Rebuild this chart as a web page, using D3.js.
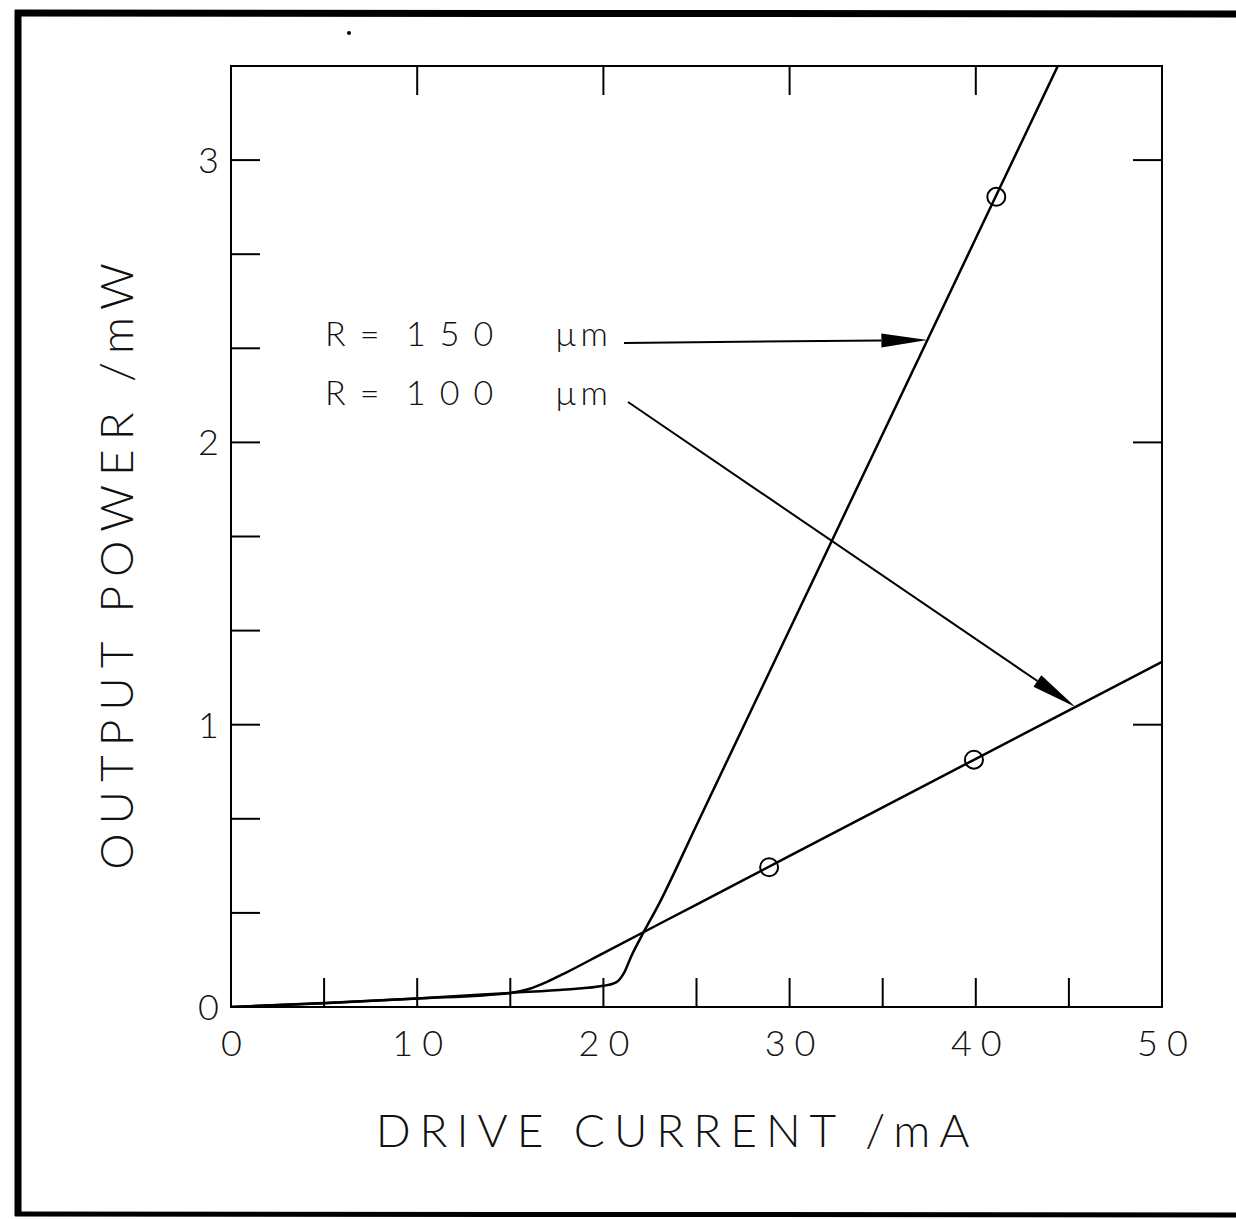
<!DOCTYPE html>
<html>
<head>
<meta charset="utf-8">
<script src="https://cdn.jsdelivr.net/npm/d3@7"></script>
<style>
  body { margin: 0; background: #fff; }
  svg text { font-family: Lato, "Open Sans", "DejaVu Sans", sans-serif; font-weight: 300; fill: #111; }
</style>
</head>
<body>
<svg width="1236" height="1219"></svg>
<script>
// curve data (drive current mA, output power mW)
const r150_x = [0, 5, 10, 15, 18, 20, 20.7, 21.1, 21.5, 22.0, 23, 25, 30, 35, 40, 44.4];
const r150_y = [0, 0.013, 0.03, 0.05, 0.062, 0.075, 0.088, 0.12, 0.18, 0.245, 0.367, 0.644, 1.337, 2.03, 2.723, 3.333];
const r100_x = [0, 5, 10, 15, 16, 17, 18, 20, 25, 30, 40, 50];
const r100_y = [0, 0.014, 0.03, 0.05, 0.064, 0.09, 0.122, 0.191, 0.363, 0.535, 0.879, 1.223];
// measured points (circles)
const r150_pts = [[41.1, 2.87]];
const r100_pts = [[28.9, 0.495], [39.9, 0.876]];

const xTicksMinor = [5, 10, 15, 20, 25, 30, 35, 40, 45];
const xTicksTop = [10, 20, 30, 40];
const xLabels = [0, 10, 20, 30, 40, 50];
const yTicksLeft = [1, 2, 3, 4, 5, 6, 7, 8, 9].map(function(i) { return i / 3; });
const yTicksRight = [1, 2, 3];
const yLabels = [0, 1, 2, 3];

var svg = d3.select("svg");

// plot box edges (don't use "top", it's window.top)
var pL = 231, pR = 1162, pT = 66, pB = 1007;

var x = d3.scaleLinear().domain([0, 50]).range([pL, pR]);
var y = d3.scaleLinear().domain([0, 10 / 3]).range([pB, pT]);

// outer scan frame
var frame = svg.append("g").attr("stroke", "#000").attr("fill", "none");
frame.append("line").attr("x1", 15).attr("y1", 13).attr("x2", 1236).attr("y2", 14).attr("stroke-width", 7);
frame.append("line").attr("x1", 18).attr("y1", 10).attr("x2", 18).attr("y2", 1216).attr("stroke-width", 7);
frame.append("line").attr("x1", 15).attr("y1", 1214).attr("x2", 1236).attr("y2", 1215).attr("stroke-width", 5);
svg.append("circle").attr("cx", 349).attr("cy", 33).attr("r", 2).attr("fill", "#000");

// plot box
svg.append("rect")
    .attr("x", pL).attr("y", pT)
    .attr("width", pR - pL).attr("height", pB - pT)
    .attr("fill", "none").attr("stroke", "#000").attr("stroke-width", 2);

var tickLen = 29;
var ticks = svg.append("g").attr("stroke", "#000").attr("stroke-width", 2);
ticks.selectAll(".tb").data(xTicksMinor).enter().append("line")
    .attr("x1", function(d) { return x(d); }).attr("x2", function(d) { return x(d); })
    .attr("y1", pB).attr("y2", pB - tickLen);
ticks.selectAll(".tt").data(xTicksTop).enter().append("line")
    .attr("x1", function(d) { return x(d); }).attr("x2", function(d) { return x(d); })
    .attr("y1", pT).attr("y2", pT + tickLen);
ticks.selectAll(".tl").data(yTicksLeft).enter().append("line")
    .attr("x1", pL).attr("x2", pL + tickLen)
    .attr("y1", function(d) { return y(d); }).attr("y2", function(d) { return y(d); });
ticks.selectAll(".tr").data(yTicksRight).enter().append("line")
    .attr("x1", pR).attr("x2", pR - tickLen)
    .attr("y1", function(d) { return y(d); }).attr("y2", function(d) { return y(d); });

// tick labels
svg.selectAll(".xl").data(xLabels).enter().append("text")
    .attr("x", function(d) { return x(d) + 5; })
    .attr("y", pB + 49)
    .attr("text-anchor", "middle")
    .attr("font-size", 36)
    .attr("letter-spacing", 9)
    .text(function(d) { return d; });
svg.selectAll(".yl").data(yLabels).enter().append("text")
    .attr("x", pL - 12)
    .attr("y", function(d) { return y(d) + 13; })
    .attr("text-anchor", "end")
    .attr("font-size", 36)
    .text(function(d) { return d; });

// axis titles
svg.append("text")
    .attr("x", 677).attr("y", 1147)
    .attr("text-anchor", "middle")
    .attr("font-size", 46)
    .attr("letter-spacing", 9)
    .attr("xml:space", "preserve")
    .text("DRIVE CURRENT /mA");
svg.append("text")
    .attr("transform", "translate(133,562) rotate(-90)")
    .attr("text-anchor", "middle")
    .attr("font-size", 46)
    .attr("letter-spacing", 9)
    .attr("xml:space", "preserve")
    .text("OUTPUT POWER /mW");

// curves
svg.append("clipPath").attr("id", "clip").append("rect")
    .attr("x", pL).attr("y", pT).attr("width", pR - pL).attr("height", pB - pT);

var line = d3.line()
    .x(function(d) { return x(d[0]); })
    .y(function(d) { return y(d[1]); })
    .curve(d3.curveMonotoneX);

var curves = svg.append("g").attr("clip-path", "url(#clip)")
    .attr("fill", "none").attr("stroke", "#000").attr("stroke-width", 2.5);
curves.append("path").attr("d", line(d3.zip(r150_x, r150_y)));
curves.append("path").attr("d", line(d3.zip(r100_x, r100_y)));

svg.selectAll(".pt").data(r150_pts.concat(r100_pts)).enter().append("circle")
    .attr("cx", function(d) { return x(d[0]); })
    .attr("cy", function(d) { return y(d[1]); })
    .attr("r", 9)
    .attr("fill", "none").attr("stroke", "#000").attr("stroke-width", 2);

// annotations
function label(ypos, num) {
    var t = svg.append("text").attr("y", ypos).attr("font-size", 34);
    t.append("tspan").attr("x", 325).attr("letter-spacing", 14).text("R=");
    t.append("tspan").attr("x", 406).attr("letter-spacing", 14).text(num);
    t.append("tspan").attr("x", 555).attr("letter-spacing", 4).text("µm");
}
label(346, "150");
label(405, "100");

function arrow(x1, y1, x2, y2) {
    var ang = Math.atan2(y2 - y1, x2 - x1);
    var hl = 46, hw = 7;
    var bx = x2 - hl * Math.cos(ang), by = y2 - hl * Math.sin(ang);
    svg.append("line").attr("x1", x1).attr("y1", y1).attr("x2", bx).attr("y2", by)
        .attr("stroke", "#000").attr("stroke-width", 2);
    var px = -Math.sin(ang) * hw, py = Math.cos(ang) * hw;
    svg.append("path")
        .attr("d", "M" + x2 + "," + y2 + "L" + (bx + px) + "," + (by + py) + "L" + (bx - px) + "," + (by - py) + "Z")
        .attr("fill", "#000");
}
// arrow tips sit on the curves
arrow(624, 343, x(37.4), y(0.27 + 0.1386 * (37.4 - 22.3)));
arrow(628, 402, x(45.35), y(0.27 + 0.0344 * (45.35 - 22.3)));
</script>
</body>
</html>
